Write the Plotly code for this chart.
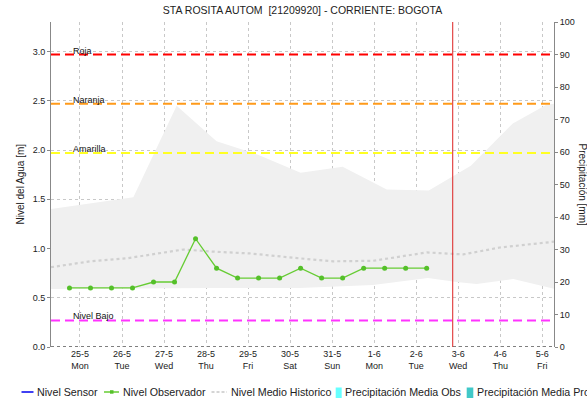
import plotly.graph_objects as go

# ---- data -------------------------------------------------------------
day_labels = ["25-5", "26-5", "27-5", "28-5", "29-5", "30-5", "31-5",
              "1-6", "2-6", "3-6", "4-6", "5-6"]
weekday_labels = ["Mon", "Tue", "Wed", "Thu", "Fri", "Sat", "Sun",
                  "Mon", "Tue", "Wed", "Thu", "Fri"]

# observer readings, two per day (morning / evening), in metres
obs_x = [-0.25, 0.25, 0.75, 1.25, 1.75, 2.25, 2.75, 3.25, 3.75, 4.25,
         4.75, 5.25, 5.75, 6.25, 6.75, 7.25, 7.75, 8.25]
obs_level = [0.60, 0.60, 0.60, 0.60, 0.66, 0.66, 1.10, 0.80, 0.70, 0.70,
             0.70, 0.80, 0.70, 0.70, 0.80, 0.80, 0.80, 0.80]

# historical mean level
hist_x = [-0.69, 0.24, 1.11, 1.90, 2.46, 3.09, 4.04, 5.23, 6.02, 6.97, 8.25, 9.12, 9.99, 11.3]
hist_mean = [0.81, 0.87, 0.90, 0.95, 0.99, 0.97, 0.95, 0.90, 0.87, 0.875, 0.96, 0.94, 1.01, 1.07]

# historical range (upper / lower envelope)
upper_x = [-0.69, 0.27, 1.27, 2.30, 3.25, 4.25, 5.25, 6.25, 7.30, 8.30, 9.30, 10.30, 11.10, 11.3]
upper_level = [1.40, 1.46, 1.52, 2.45, 2.09, 1.95, 1.77, 1.83, 1.60, 1.59, 1.84, 2.27, 2.46, 2.47]
lower_x = [-0.69, 3.1, 5.23, 6.97, 8.28, 8.96, 9.44, 10.31, 11.3]
lower_level = [0.59, 0.60, 0.60, 0.63, 0.70, 0.66, 0.64, 0.69, 0.59]

# alert thresholds (m)
threshold_names = ["Roja", "Naranja", "Amarilla", "Nivel Bajo"]
threshold_values = [2.97, 2.47, 1.97, 0.27]
threshold_colors = ["#ff0000", "#ff9a1a", "#ffff22", "#ff33ff"]

now_marker = 8.87  # current time marker (days from 25-5)

# ---- figure -----------------------------------------------------------
FONT = "Liberation Sans, Arial, sans-serif"
L, R, T, B = 51, 33, 22, 54
W, H = 587, 401
PW, PH = W - L - R, H - T - B


def px(x):
    return (x - L) / PW


def py(y):
    return (H - B - y) / PH


fig = go.Figure()

# historical band
fig.add_trace(go.Scatter(
    x=upper_x + lower_x[::-1], y=upper_level + lower_level[::-1],
    fill="toself", fillcolor="#f0f0f0", line=dict(width=0),
    mode="lines", hoverinfo="skip", showlegend=False))

# historical mean
fig.add_trace(go.Scatter(
    x=hist_x, y=hist_mean, mode="lines",
    line=dict(color="#d0d0d0", width=2.2, dash="dot"),
    showlegend=False))

# observer level
fig.add_trace(go.Scatter(
    x=obs_x, y=obs_level, mode="lines+markers",
    line=dict(color="#66cc33", width=1.3),
    marker=dict(color="#55c02a", size=5, symbol="circle"),
    showlegend=False))

# empty precipitation axis trace so the right axis renders
fig.add_trace(go.Scatter(x=[None], y=[None], yaxis="y2", showlegend=False))

shapes = []
annotations = []
for name, val, col in zip(threshold_names, threshold_values, threshold_colors):
    shapes.append(dict(type="line", xref="paper", x0=0, x1=1, yref="y",
                       y0=val, y1=val, line=dict(color=col, width=2, dash="9px,5px")))
    annotations.append(dict(text=name, xref="paper", x=px(71), yref="y", y=val,
                            xanchor="left", yanchor="bottom", yshift=-3,
                            showarrow=False, font=dict(family=FONT, size=9, color="#111")))

# current time marker
shapes.append(dict(type="line", xref="x", x0=now_marker, x1=now_marker,
                   yref="paper", y0=0, y1=1, line=dict(color="#dd2222", width=1)))
# bottom axis drawn as dotted line
shapes.append(dict(type="line", xref="paper", x0=0, x1=1, yref="y", y0=0, y1=0,
                   line=dict(color="#555555", width=1.5, dash="dot")))

# legend drawn by hand along the bottom edge
ly = py(392)
leg_font = dict(family=FONT, size=10.7, color="#222")
shapes.append(dict(type="line", xref="paper", yref="paper", x0=px(21.5), x1=px(33.5),
                   y0=ly, y1=ly, line=dict(color="#0000ee", width=1.5)))
annotations.append(dict(text="Nivel Sensor", xref="paper", yref="paper", x=px(34.5), y=ly,
                        xanchor="left", yanchor="middle", showarrow=False, font=leg_font))
shapes.append(dict(type="line", xref="paper", yref="paper", x0=px(104), x1=px(119),
                   y0=ly, y1=ly, line=dict(color="#66cc33", width=1.5)))
shapes.append(dict(type="rect", xref="paper", yref="paper", x0=px(110), x1=px(113.5),
                   y0=py(393.7), y1=py(390.2), line=dict(width=0), fillcolor="#55c02a"))
annotations.append(dict(text="Nivel Observador", xref="paper", yref="paper", x=px(120.5), y=ly,
                        xanchor="left", yanchor="middle", showarrow=False, font=leg_font))
shapes.append(dict(type="line", xref="paper", yref="paper", x0=px(211.5), x1=px(227),
                   y0=ly, y1=ly, line=dict(color="#c8c8c8", width=1.5, dash="3px,2px")))
annotations.append(dict(text="Nivel Medio Historico", xref="paper", yref="paper", x=px(228.5), y=ly,
                        xanchor="left", yanchor="middle", showarrow=False, font=leg_font))
shapes.append(dict(type="rect", xref="paper", yref="paper", x0=px(335.7), x1=px(341.7),
                   y0=py(398), y1=py(387.5), line=dict(width=0), fillcolor="#66ffff"))
annotations.append(dict(text="Precipitación Media Obs", xref="paper", yref="paper", x=px(342.5), y=ly,
                        xanchor="left", yanchor="middle", showarrow=False, font=leg_font))
shapes.append(dict(type="rect", xref="paper", yref="paper", x0=px(466.7), x1=px(473.3),
                   y0=py(398), y1=py(387.5), line=dict(width=0), fillcolor="#40c8c8"))
annotations.append(dict(text="Precipitación Media Pronosticada", xref="paper", yref="paper",
                        x=px(474.5), y=ly, xanchor="left", yanchor="middle",
                        showarrow=False, font=leg_font))

# axis titles
annotations.append(dict(text="Nivel del Agua [m]", xref="paper", yref="paper", x=px(20), y=0.5,
                        textangle=-90, xanchor="center", yanchor="middle", showarrow=False,
                        font=dict(family=FONT, size=10, color="#222")))
annotations.append(dict(text="Precipitación [mm]", xref="paper", yref="paper", x=px(582), y=0.5,
                        textangle=90, xanchor="center", yanchor="middle", showarrow=False,
                        font=dict(family=FONT, size=10, color="#222")))

tick_font = dict(family=FONT, size=9, color="#222")
fig.update_layout(
    width=W, height=H,
    margin=dict(l=L, r=R, t=T, b=B, pad=0),
    paper_bgcolor="white", plot_bgcolor="white",
    showlegend=False,
    title=dict(text="STA ROSITA AUTOM  [21209920] - CORRIENTE: BOGOTA",
               x=302.5 / W, xanchor="center",
               y=1 - 10 / H, yanchor="middle",
               font=dict(family=FONT, size=10.5, color="#222")),
    xaxis=dict(range=[-0.69, 11.28], tickmode="array",
               tickvals=list(range(len(day_labels))),
               ticktext=[f"{d}<br>{w}" for d, w in zip(day_labels, weekday_labels)],
               showgrid=True, gridcolor="#c8c8c8", griddash="dot", gridwidth=1,
               ticks="", showline=False, zeroline=False, tickfont=tick_font),
    yaxis=dict(range=[0, 3.3], tickvals=[0, 0.5, 1.0, 1.5, 2.0, 2.5, 3.0], tickformat=".1f",
               showgrid=True, gridcolor="#c8c8c8", griddash="dot", gridwidth=1,
               ticks="outside", ticklen=3, tickcolor="#888",
               showline=True, linecolor="#888", linewidth=1,
               zeroline=False, tickfont=tick_font),
    yaxis2=dict(range=[0, 100], dtick=10, overlaying="y", side="right",
                showgrid=False, zeroline=False, ticks="outside", ticklen=3, tickcolor="#888",
                showline=True, linecolor="#888", linewidth=1, tickfont=tick_font),
    shapes=shapes, annotations=annotations,
)

fig.write_html("out.html")
